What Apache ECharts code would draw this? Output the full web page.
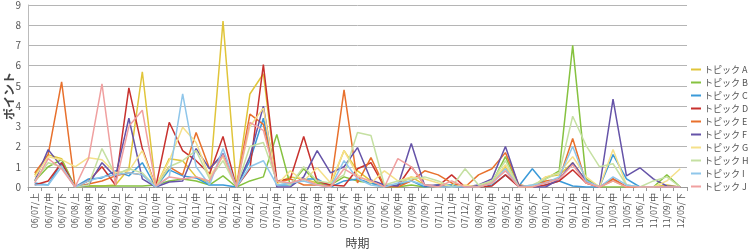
<!DOCTYPE html>
<html>
<head>
<meta charset="utf-8">
<script src="https://cdn.jsdelivr.net/npm/echarts@6/dist/echarts.min.js"></script>
<style>
  html, body { margin: 0; padding: 0; background: #fff; }
  #chart { width: 751px; height: 252px; }
</style>
</head>
<body>
<div id="chart"></div>
<script>
var categories = ['06/07/上','06/07/中','06/07/下','06/08/上','06/08/中','06/08/下','06/09/上','06/09/下',
  '06/10/上','06/10/中','06/10/下','06/11/上','06/11/中','06/11/下','06/12/上','06/12/中','06/12/下',
  '07/01/上','07/01/中','07/01/下','07/02/中','07/03/中','07/04/中','07/04/下','07/05/中','07/05/下',
  '07/06/上','07/06/中','07/09/中','07/09/下','07/11/上','07/11/中','07/12/上','08/09/下','08/10/中',
  '09/05/上','09/05/中','09/05/下','09/10/下','09/11/上','09/11/中','09/12/中','10/01/下','10/03/中',
  '10/05/下','10/06/上','11/07/中','11/09/下','12/05/下'];

var topicA = [0.6,1.6,1.4,0.0,0.05,0.05,0.1,0.9,5.7,0.0,1.4,1.3,0.5,0.2,8.2,0.0,4.6,5.6,0.2,0.5,0.4,0.2,0.1,1.8,0.8,0.3,0.0,0.1,0.5,0.1,0.0,0.1,0.0,0.0,0.3,1.0,0.1,0.0,0.5,0.6,1.2,0.3,0.0,0.3,0.0,0.0,0.0,0.1,0.0];
var topicB = [0.3,1.0,1.35,0.0,0.05,0.05,0.05,0.05,0.05,0.1,0.3,0.4,0.3,0.1,0.55,0.0,0.3,0.5,2.6,0.1,0.9,0.2,0.1,0.5,0.3,0.2,0.0,0.0,0.1,0.0,0.1,0.0,0.0,0.0,0.2,1.5,0.0,0.0,0.4,0.8,7.0,0.4,0.0,0.0,0.0,0.0,0.0,0.6,0.0];
var topicC = [0.2,0.1,1.2,0.0,0.4,0.45,0.8,0.55,1.2,0.0,0.85,0.55,0.45,0.1,0.1,0.0,1.3,3.4,0.1,0.1,0.4,0.4,0.0,0.3,0.4,0.2,0.0,0.1,0.3,0.0,0.1,0.1,0.0,0.0,0.1,0.6,0.05,0.9,0.1,0.3,0.05,0.0,0.0,1.6,0.4,0.0,0.0,0.0,0.0];
var topicD = [0.1,0.3,1.2,0.0,0.3,1.0,0.1,4.9,1.9,0.0,3.2,1.8,1.3,0.65,2.5,0.0,0.9,6.05,0.3,0.4,2.5,0.3,0.1,0.05,0.9,1.2,0.0,0.05,1.0,0.1,0.05,0.6,0.0,0.0,0.05,0.6,0.0,0.0,0.1,0.3,0.85,0.2,0.0,0.4,0.0,0.0,0.0,0.0,0.0];
var topicE = [0.7,1.6,5.2,0.0,0.15,0.3,0.55,0.7,0.6,0.05,1.0,0.6,2.7,0.9,1.6,0.0,3.6,3.1,0.2,0.4,0.1,0.1,0.05,4.8,0.2,1.45,0.05,0.0,0.3,0.8,0.6,0.2,0.0,0.6,0.9,1.7,0.1,0.0,0.3,0.4,2.4,0.2,0.0,0.4,0.0,0.0,0.0,0.0,0.0];
var topicF = [0.3,1.85,1.0,0.0,0.1,1.2,0.5,3.4,0.4,0.0,0.25,0.3,1.9,0.9,1.65,0.0,1.5,4.0,0.0,0.0,0.5,1.8,0.7,1.0,1.95,0.35,0.1,0.05,2.15,0.05,0.1,0.0,0.0,0.1,0.4,2.0,0.05,0.0,0.0,0.4,1.2,0.3,0.0,4.35,0.55,0.95,0.4,0.05,0.0];
var topicG = [0.5,1.5,1.35,1.0,1.45,1.35,0.7,0.8,1.8,0.0,1.3,2.95,2.2,0.5,1.5,0.0,3.0,3.9,0.1,0.8,0.3,0.95,0.2,1.8,0.6,0.2,0.8,0.3,0.5,0.4,0.2,0.0,0.1,0.0,0.2,1.1,0.0,0.0,0.5,0.7,1.5,0.5,0.0,1.85,0.1,0.0,0.0,0.3,0.9];
var topicH = [0.3,1.2,1.0,0.0,0.1,1.9,0.6,0.9,0.7,0.0,1.0,1.3,1.8,0.4,1.3,0.0,2.0,2.2,0.3,0.1,1.0,0.3,0.2,0.6,2.7,2.55,0.1,0.3,0.4,0.5,0.3,0.0,0.9,0.1,0.3,1.3,0.0,0.1,0.4,0.7,3.5,2.05,1.0,1.15,0.1,0.0,0.3,0.5,0.0];
var topicI = [0.1,0.1,1.0,0.0,0.3,0.5,0.6,0.7,0.6,0.0,0.5,4.6,1.0,0.1,1.9,0.0,1.0,1.3,0.1,0.2,0.3,0.1,0.0,1.3,0.4,0.1,0.0,0.2,0.3,0.1,0.0,0.0,0.0,0.0,0.2,0.9,0.0,0.1,0.2,0.5,2.0,0.3,0.0,0.5,0.1,0.0,0.0,0.0,0.0];
var topicJ = [0.2,1.4,0.9,0.0,1.4,5.1,0.1,3.0,3.8,0.05,0.5,0.4,0.5,0.3,1.6,0.0,3.2,2.8,0.3,0.2,0.4,0.1,0.0,0.9,0.5,0.3,0.0,1.4,1.0,0.1,0.0,0.3,0.0,0.0,0.2,0.8,0.0,0.0,0.2,0.4,1.1,0.2,0.0,0.3,0.0,0.0,0.0,0.0,0.0];

var seriesNames = ['トピック A','トピック B','トピック C','トピック D','トピック E','トピック F','トピック G','トピック H','トピック I','トピック J'];
var seriesData = [topicA, topicB, topicC, topicD, topicE, topicF, topicG, topicH, topicI, topicJ];
var colors = ['#e0c53a','#86c240','#3a9ad9','#c8312e','#e8702c','#6553a8','#f5e08a','#c5e0a2','#8fc6ea','#f0a0a0'];

var font = '"Noto Sans CJK JP", "Noto Sans", sans-serif';
var chart = echarts.init(document.getElementById('chart'));

var series = [];
for (var i = 0; i < seriesNames.length; i++) {
  series.push({
    name: seriesNames[i],
    type: 'line',
    data: seriesData[i],
    showSymbol: false,
    symbol: 'none',
    lineStyle: { width: 1.5, color: colors[i] },
    itemStyle: { color: colors[i] }
  });
}

var option = {
  animation: false,
  color: colors,
  textStyle: { fontFamily: font },
  grid: { left: 28, right: 64, top: 5, bottom: 65, outerBoundsMode: 'none', containLabel: false },
  legend: {
    orient: 'vertical',
    left: 691,
    top: 63,
    itemWidth: 10,
    itemHeight: 2,
    itemGap: 0,
    padding: 0,
    icon: 'rect',
    textStyle: { fontSize: 9, color: '#555', lineHeight: 13, fontFamily: font, padding: [0, 0, 0, -2] },
    data: seriesNames
  },
  xAxis: {
    type: 'category',
    data: categories,
    boundaryGap: true,
    name: '時期',
    nameLocation: 'middle',
    nameGap: 50,
    nameMoveOverlap: false,
    nameTextStyle: { fontSize: 12, color: '#444', fontFamily: font },
    axisLine: { lineStyle: { color: '#999' } },
    axisTick: { show: true, alignWithLabel: false, length: 4, lineStyle: { color: '#999' } },
    axisLabel: { rotate: 90, interval: 0, fontSize: 8.8, color: '#555', margin: 6, fontFamily: font }
  },
  yAxis: {
    type: 'value',
    min: 0,
    max: 9,
    interval: 1,
    name: 'ポイント',
    nameLocation: 'middle',
    nameGap: 13,
    nameMoveOverlap: false,
    nameTextStyle: { fontSize: 12, fontWeight: 'bold', color: '#444', fontFamily: font },
    axisLine: { show: true, lineStyle: { color: '#bbb' } },
    axisTick: { show: false },
    axisLabel: { fontSize: 10, color: '#555', margin: 7 },
    splitLine: { lineStyle: { color: '#b5b5b5', width: 1 } }
  },
  series: series
};
chart.setOption(option);
</script>
</body>
</html>
